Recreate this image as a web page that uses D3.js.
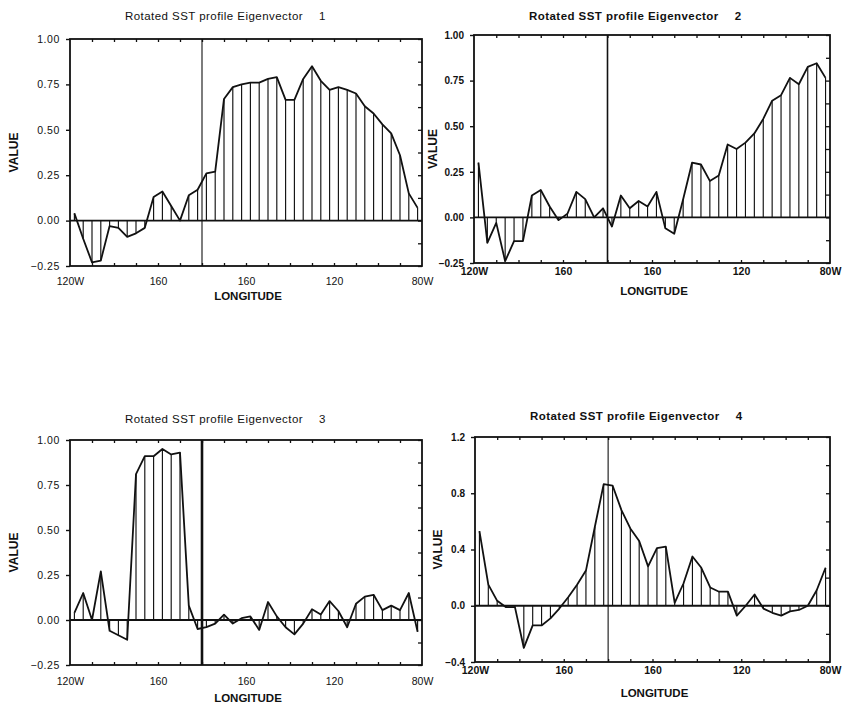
<!DOCTYPE html>
<html><head><meta charset="utf-8">
<script src="https://cdn.jsdelivr.net/npm/d3@7/dist/d3.min.js"></script>
<style>
body{margin:0;background:#fff}
svg{display:block}
text{font-family:"Liberation Sans",Arial,Helvetica,sans-serif;fill:#111}
</style>
</head><body>
<svg id="chart" width="846" height="705"></svg>
<script>
// ---------- data ----------
const longitudes = [122,126,130,134,138,142,146,150,154,158,
                    162,166,170,174,178,182,186,190,194,198,
                    202,206,210,214,218,222,226,230,234,238,
                    242,246,250,254,258,262,266,270,274,278];
const lonTicks = [120,160,200,240,280];
const lonTickLabels = ["120W","160","160","120","80W"];
const dateLine = 180;

const ev1 = [0.04,-0.10,-0.23,-0.22,-0.03,-0.04,-0.09,-0.07,-0.04,0.13,
             0.16,0.08,0.00,0.14,0.17,0.26,0.27,0.67,0.735,0.75,
             0.76,0.76,0.78,0.79,0.665,0.665,0.78,0.85,0.77,0.72,
             0.735,0.72,0.70,0.63,0.59,0.53,0.48,0.36,0.15,0.07];
const ev2 = [0.30,-0.14,-0.03,-0.24,-0.13,-0.13,0.12,0.15,0.06,-0.015,
             0.02,0.14,0.10,0.00,0.05,-0.05,0.12,0.05,0.09,0.06,
             0.14,-0.06,-0.09,0.10,0.30,0.29,0.20,0.23,0.40,0.375,
             0.41,0.46,0.54,0.64,0.67,0.765,0.73,0.825,0.845,0.765];
const ev3 = [0.04,0.15,0.00,0.27,-0.06,-0.085,-0.11,0.81,0.91,0.91,
             0.95,0.92,0.93,0.08,-0.05,-0.04,-0.02,0.03,-0.02,0.01,
             0.02,-0.055,0.10,0.02,-0.04,-0.08,-0.02,0.06,0.03,0.105,
             0.05,-0.04,0.09,0.13,0.14,0.055,0.08,0.055,0.15,-0.065];
const ev4 = [0.53,0.15,0.035,-0.01,-0.01,-0.30,-0.14,-0.14,-0.09,-0.02,
             0.06,0.15,0.25,0.56,0.865,0.855,0.68,0.55,0.46,0.28,
             0.41,0.42,0.02,0.16,0.35,0.27,0.13,0.10,0.10,-0.07,
             0.00,0.08,-0.02,-0.05,-0.07,-0.04,-0.03,0.00,0.11,0.27];

const yTicksA = [-0.25,0,0.25,0.5,0.75,1.0];
const yTickLabelsA = ["\u22120.25","0.00","0.25","0.50","0.75","1.00"];
const yTicksB = [-0.4,0,0.4,0.8,1.2];
const yTickLabelsB = ["\u22120.4","0.0","0.4","0.8","1.2"];

const titleText = "Rotated SST profile Eigenvector";
const titleNumbers = ["1","2","3","4"];
const yAxisTitle = "VALUE";
const xAxisTitle = "LONGITUDE";

// ---------- layout ----------
const panels = [
  {vals:ev1, num:0, L:70,  R:422, T:39,  B:266, dom:[-0.25,1], ticks:yTicksA, labs:yTickLabelsA, minor:0.125,
   bold:false, xPad:12, lonY:300, titleY:20, valX:14, dlW:1.1, yfs:10.5},
  {vals:ev2, num:1, L:474, R:830, T:35,  B:263, dom:[-0.25,1], ticks:yTicksA, labs:yTickLabelsA, minor:0.125,
   bold:true, xPad:5, lonY:295, titleY:20, valX:433, dlW:1.6, yfs:10},
  {vals:ev3, num:2, L:70,  R:422, T:440, B:665, dom:[-0.25,1], ticks:yTicksA, labs:yTickLabelsA, minor:0.125,
   bold:false, xPad:13, lonY:702, titleY:423, valX:14, dlW:2.6, yfs:10.5},
  {vals:ev4, num:3, L:475, R:830, T:437, B:662, dom:[-0.4,1.2], ticks:yTicksB, labs:yTickLabelsB, minor:0.2,
   bold:true, xPad:5, lonY:697, titleY:420, valX:438, dlW:1.1, yfs:10}
];

const svg = d3.select("#chart");

panels.forEach(p => {
  const g = svg.append("g");
  const x = d3.scaleLinear().domain([120,280]).range([p.L,p.R]);
  const y = d3.scaleLinear().domain(p.dom).range([p.B,p.T]);
  const fw = p.bold ? "bold" : "normal";

  // hatch: vertical lines from zero to each value
  g.selectAll("line.h").data(p.vals).enter().append("line")
    .attr("x1",(d,i)=>x(longitudes[i])).attr("x2",(d,i)=>x(longitudes[i]))
    .attr("y1",y(0)).attr("y2",d=>y(d))
    .attr("stroke","#111").attr("stroke-width",1.15);

  // curve
  const line = d3.line().x((d,i)=>x(longitudes[i])).y(d=>y(d));
  g.append("path").datum(p.vals).attr("d",line)
    .attr("fill","none").attr("stroke","#111").attr("stroke-width",1.8)
    .attr("stroke-linejoin","round");

  // zero line
  g.append("line").attr("x1",p.L).attr("x2",p.R).attr("y1",y(0)).attr("y2",y(0))
    .attr("stroke","#111").attr("stroke-width",1.8);

  // date line
  g.append("line").attr("x1",x(dateLine)).attr("x2",x(dateLine)).attr("y1",p.T).attr("y2",p.B)
    .attr("stroke","#111").attr("stroke-width",p.dlW);

  // frame
  g.append("rect").attr("x",p.L).attr("y",p.T).attr("width",p.R-p.L).attr("height",p.B-p.T)
    .attr("fill","none").attr("stroke","#111").attr("stroke-width",1.8);

  const minorLon = d3.range(130,280,10);
  const minorY = d3.range(p.dom[0], p.dom[1]+1e-9, p.minor);

  // left axis
  const ax = g.append("g").attr("transform",`translate(${p.L},0)`)
    .call(d3.axisLeft(y).tickValues(p.ticks).tickFormat((d,i)=>p.labs[i]).tickSize(4).tickPadding(6));
  ax.select(".domain").remove();
  ax.selectAll("line").attr("stroke","#111").attr("stroke-width",1.4);
  ax.selectAll("text").style("font-size",p.yfs+"px").style("font-weight",fw).attr("fill","#111")
    .style("letter-spacing", p.bold ? "0px" : "0.6px");

  // right axis minor ticks (inward)
  const ar = g.append("g").attr("transform",`translate(${p.R},0)`)
    .call(d3.axisRight(y).tickValues(minorY).tickFormat("").tickSize(-4));
  ar.select(".domain").remove();
  ar.selectAll("line").attr("stroke","#111").attr("stroke-width",1.3);

  // top axis minor ticks (inward)
  const at = g.append("g").attr("transform",`translate(0,${p.T})`)
    .call(d3.axisTop(x).tickValues(minorLon).tickFormat("").tickSize(-3));
  at.select(".domain").remove();
  at.selectAll("line").attr("stroke","#111").attr("stroke-width",1.3);

  // bottom axis: minor inward ticks + labels
  const abm = g.append("g").attr("transform",`translate(0,${p.B})`)
    .call(d3.axisBottom(x).tickValues(minorLon).tickFormat("").tickSize(-3));
  abm.select(".domain").remove();
  abm.selectAll("line").attr("stroke","#111").attr("stroke-width",1.3);

  const ab = g.append("g").attr("transform",`translate(0,${p.B})`)
    .call(d3.axisBottom(x).tickValues(lonTicks).tickFormat((d,i)=>lonTickLabels[i]).tickSize(0).tickPadding(p.xPad));
  ab.select(".domain").remove();
  ab.selectAll("text").style("font-size","10.5px").style("font-weight",fw).attr("fill","#111");

  // axis titles
  g.append("text").attr("transform",`translate(${p.valX},${(p.T+p.B)/2}) rotate(-90)`)
    .attr("text-anchor","middle").attr("dy","0.36em")
    .style("font-size","12px").style("font-weight","bold").text(yAxisTitle);
  g.append("text").attr("x",(p.L+p.R)/2+2).attr("y",p.lonY).attr("text-anchor","middle")
    .style("font-size","11.5px").style("font-weight","bold").text(xAxisTitle);

  // title
  const t = g.append("text").attr("x",p.L+55).attr("y",p.titleY)
    .style("font-size","11.5px").style("font-weight",fw).style("letter-spacing","0.45px")
    .text(titleText);
  t.append("tspan").attr("dx",16).text(titleNumbers[p.num]);
});
</script>
</body></html>
